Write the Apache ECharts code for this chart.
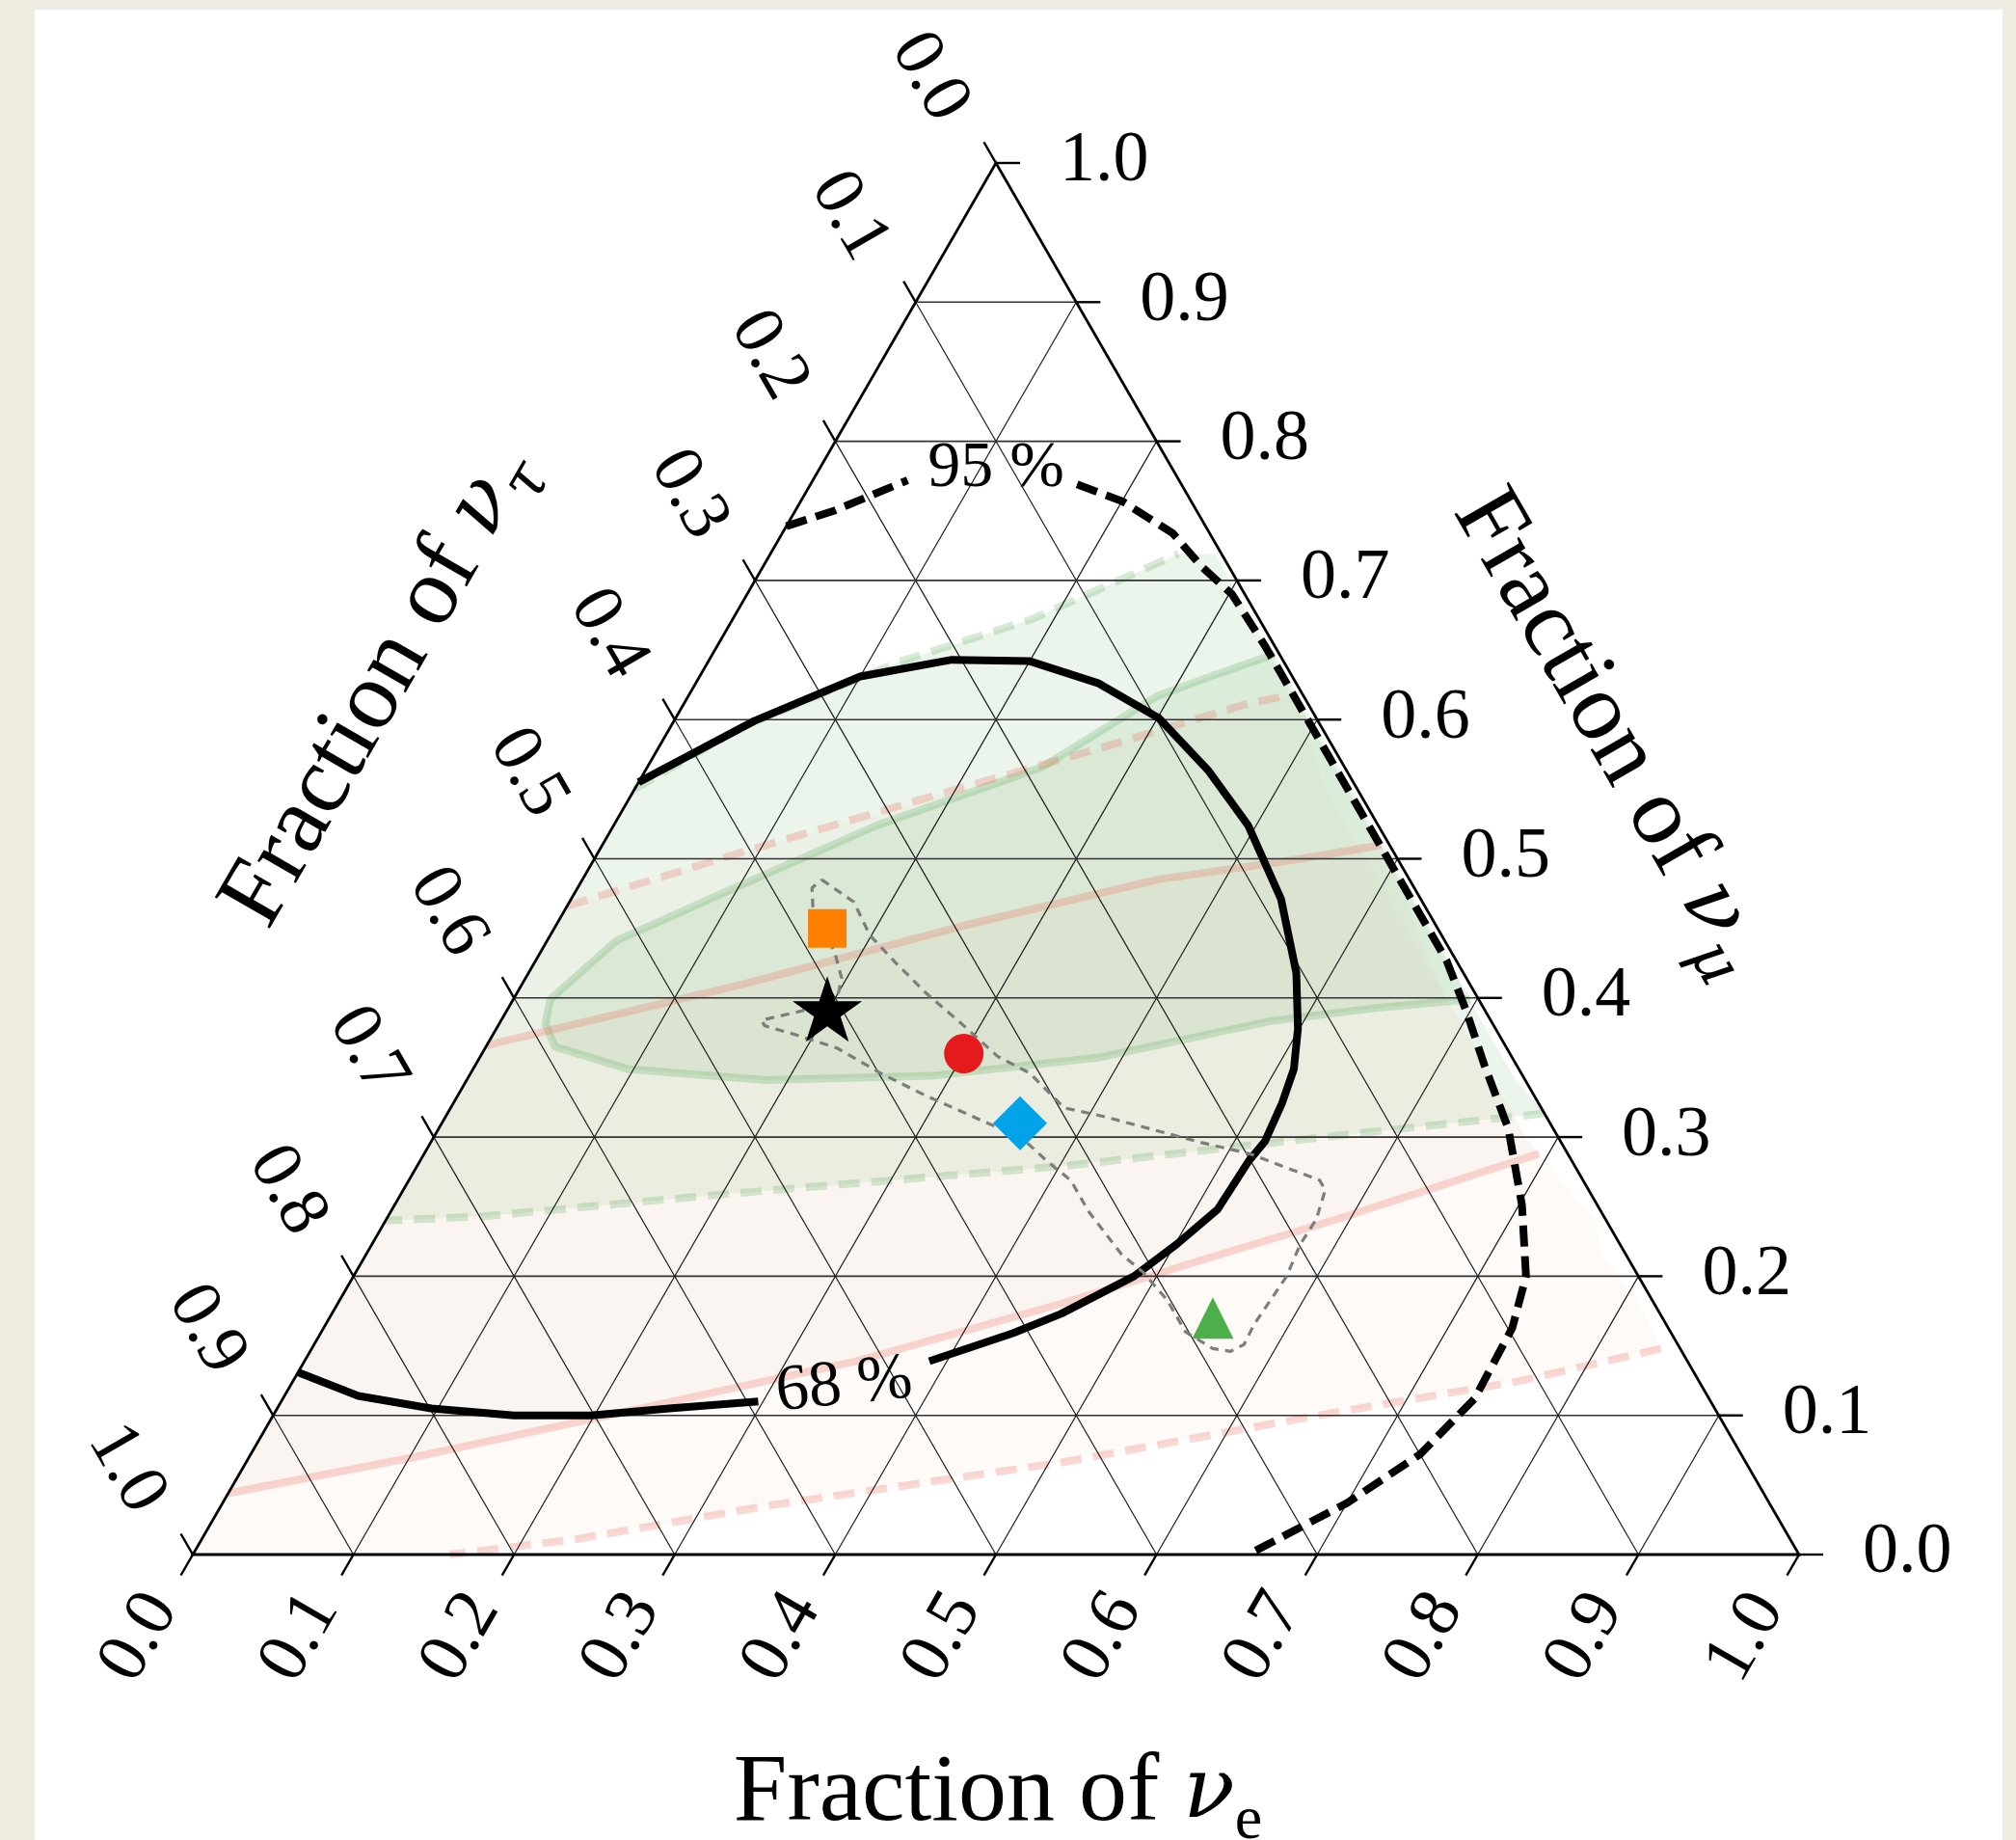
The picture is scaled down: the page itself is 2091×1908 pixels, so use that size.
<!DOCTYPE html>
<html><head><meta charset="utf-8">
<script src="https://cdn.jsdelivr.net/npm/echarts@6/dist/echarts.min.js"></script>
<style>
html,body{margin:0;padding:0;background:#EEEBE1;width:2091px;height:1908px;overflow:hidden;}
#panel{position:absolute;left:36px;top:10px;width:2041px;height:1898px;background:#ffffff;}
#chart{position:absolute;left:0;top:0;width:2091px;height:1908px;}
</style></head><body>
<div id="panel"></div>
<div id="chart"></div>
<script>
// ---- axis ticks ----
const TICKS = [0, 0.1, 0.2, 0.3, 0.4, 0.5, 0.6, 0.7, 0.8, 0.9, 1.0];
const TICK_LABELS = ['0.0','0.1','0.2','0.3','0.4','0.5','0.6','0.7','0.8','0.9','1.0'];
const GRID_VALUES = [0.1, 0.2, 0.3, 0.4, 0.5, 0.6, 0.7, 0.8, 0.9];

// all points: [fraction of nu_e, fraction of nu_mu]  (nu_tau = 1 - e - mu)
// green credible regions
const green95Upper = [[0.000,0.550],[0.045,0.595],[0.118,0.641],[0.186,0.672],[0.254,0.719],[0.277,0.719]];
const green95Right = [[0.360,0.634],[0.450,0.544],[0.550,0.444],[0.650,0.344]];
const green95Lower = [[0.683,0.317],[0.569,0.302],[0.401,0.279],[0.202,0.259],[0.059,0.243],[0.000,0.240]];
const green68Loop = [[0.350,0.647],[0.320,0.632],[0.292,0.617],[0.246,0.566],[0.164,0.524],[0.102,0.482],
  [0.043,0.441],[0.023,0.399],[0.029,0.381],[0.043,0.365],[0.096,0.349],[0.186,0.341],[0.288,0.344],
  [0.385,0.357],[0.478,0.383],[0.542,0.393],[0.596,0.399]];
// red credible regions
const red95Upper = [[0.000,0.466],[0.090,0.505],[0.188,0.545],[0.274,0.579],[0.352,0.612],[0.377,0.618]];
const red95Right = [[0.430,0.550],[0.530,0.450],[0.630,0.350],[0.680,0.300],[0.700,0.283],[0.724,0.263],
  [0.753,0.241],[0.767,0.218],[0.808,0.183]];
const red95Lower = [[0.840,0.148],[0.765,0.125],[0.651,0.100],[0.507,0.066],[0.340,0.035],[0.233,0.011],[0.160,0.000]];
const red68Upper = [[0.000,0.366],[0.138,0.410],[0.254,0.452],[0.358,0.485],[0.440,0.500],[0.485,0.510]];
const red68Right = [[0.580,0.400],[0.680,0.300]];
const red68Lower = [[0.694,0.288],[0.592,0.241],[0.521,0.211],[0.450,0.180],[0.344,0.139],[0.223,0.104],
  [0.103,0.070],[0.000,0.044]];
// black contours
const black95A = [[0.000,0.739],[0.024,0.750],[0.059,0.772]];
const black95B = [[0.166,0.769],[0.200,0.757],[0.243,0.734],[0.273,0.710],[0.302,0.690],[0.341,0.653],
  [0.391,0.603],[0.459,0.535],[0.512,0.482],[0.567,0.427],[0.598,0.390],[0.628,0.352],[0.666,0.306],
  [0.702,0.251],[0.730,0.200],[0.740,0.163],[0.742,0.112],[0.728,0.072],[0.700,0.037],[0.657,0.000]];
const black68A = [[0.000,0.555],[0.050,0.599],[0.100,0.631],[0.151,0.643],[0.200,0.642],[0.251,0.626],
  [0.301,0.601],[0.351,0.563],[0.395,0.524],[0.442,0.471],[0.478,0.418],[0.499,0.378],[0.511,0.349],
  [0.516,0.324],[0.519,0.297],[0.516,0.283],[0.514,0.248],[0.501,0.223],[0.486,0.200],[0.454,0.173],
  [0.431,0.159],[0.389,0.139]];
const black68B = [[0.297,0.110],[0.244,0.105],[0.198,0.100],[0.150,0.100],[0.096,0.105],[0.046,0.114],[0.000,0.131]];
// gray dotted contour
const grayContour = [[0.149,0.485],[0.177,0.469],[0.199,0.445],[0.224,0.426],[0.254,0.404],[0.290,0.380],
  [0.322,0.358],[0.348,0.346],[0.382,0.321],[0.409,0.315],[0.480,0.296],[0.514,0.288],[0.567,0.269],
  [0.574,0.262],[0.579,0.241],[0.578,0.223],[0.581,0.200],[0.578,0.165],[0.579,0.151],[0.573,0.146],
  [0.561,0.148],[0.538,0.160],[0.515,0.183],[0.490,0.203],[0.470,0.216],[0.435,0.246],[0.412,0.269],
  [0.390,0.283],[0.367,0.299],[0.335,0.312],[0.291,0.330],[0.255,0.346],[0.219,0.364],[0.187,0.374],
  [0.166,0.380],[0.162,0.384],[0.172,0.387],[0.188,0.392],[0.200,0.404],[0.197,0.414],[0.186,0.429],
  [0.170,0.448],[0.153,0.466],[0.146,0.479],[0.149,0.485]];
// markers
const starPoint = [0.20, 0.39];
const squarePoint = [0.17, 0.45];
const circlePoint = [0.30, 0.36];
const diamondPoint = [0.36, 0.31];
const trianglePoint = [0.55, 0.17];
// contour labels
const contourLabels = [
  {text: '95 %', pos: [0.110, 0.780], rot: 0},
  {text: '68 %', pos: [0.345, 0.121], rot: 6}
];

const FONT = '"Liberation Serif", "DejaVu Serif", serif';
const T = p => [p[0] + p[1] / 2, p[1]];

function shapeSeries(points, kind, style, z) {
  return {
    type: 'custom', coordinateSystem: 'cartesian2d', z: z, silent: true, clip: false,
    data: [[0, 0]],
    renderItem: (params, api) => ({
      type: kind,
      shape: { points: points.map(p => api.coord(T(p))) },
      style: Object.assign({}, style)
    })
  };
}
function lineStyle(color, width, dash) {
  const s = { stroke: color, lineWidth: width, fill: null, lineJoin: 'round', lineCap: 'butt' };
  if (dash) s.lineDash = dash;
  return s;
}

const GREEN_FILL = 'rgba(70,160,70,0.10)';
const RED_FILL = 'rgba(215,128,95,0.045)';
const GREEN_LINE = 'rgba(70,160,70,0.22)';
const RED_LINE = 'rgba(236,105,90,0.26)';

const series = [];
// fills
series.push(shapeSeries([...green95Upper, ...green95Right, ...green95Lower], 'polygon', {fill: GREEN_FILL}, 1));
series.push(shapeSeries([...red95Upper, ...red95Right, ...red95Lower, [0, 0]], 'polygon', {fill: RED_FILL}, 1));
series.push(shapeSeries(green68Loop, 'polygon', {fill: GREEN_FILL}, 1));
series.push(shapeSeries([...red68Upper, ...red68Right, ...red68Lower], 'polygon', {fill: RED_FILL}, 1));
// coloured boundary lines
series.push(shapeSeries(green95Upper.slice(0, 5), 'polyline', lineStyle(GREEN_LINE, 8, [22, 12]), 2));
series.push(shapeSeries(green95Lower, 'polyline', lineStyle(GREEN_LINE, 8, [22, 12]), 2));
series.push(shapeSeries(green68Loop, 'polyline', lineStyle(GREEN_LINE, 8), 2));
series.push(shapeSeries(red95Upper, 'polyline', lineStyle(RED_LINE, 8, [22, 12]), 2));
series.push(shapeSeries(red95Lower, 'polyline', lineStyle(RED_LINE, 8, [22, 12]), 2));
series.push(shapeSeries(red68Upper, 'polyline', lineStyle(RED_LINE, 8), 2));
series.push(shapeSeries(red68Lower, 'polyline', lineStyle(RED_LINE, 8), 2));

// grid lines
series.push({
  type: 'custom', coordinateSystem: 'cartesian2d', z: 3, silent: true, clip: false,
  data: GRID_VALUES.map(t => [t, 0]),
  renderItem: (params, api) => {
    const t = GRID_VALUES[params.dataIndex];
    const c = p => api.coord(T(p));
    const seg = (a, b, w, col) => ({ type: 'line', shape: {x1: a[0], y1: a[1], x2: b[0], y2: b[1]},
      style: {stroke: col, lineWidth: w} });
    return { type: 'group', children: [
      seg(c([0, t]), c([1 - t, t]), 1.6, '#333'),
      seg(c([t, 0]), c([t, 1 - t]), 1.2, '#1a1a1a'),
      seg(c([1 - t, 0]), c([0, 1 - t]), 1.2, '#1a1a1a')
    ]};
  }
});
// triangle frame
series.push(shapeSeries([[0, 0], [1, 0], [0, 1]], 'polygon', {fill: null, stroke: '#000', lineWidth: 2.8, lineJoin: 'miter'}, 4));
// ticks and tick labels
series.push({
  type: 'custom', coordinateSystem: 'cartesian2d', z: 4, silent: true, clip: false,
  data: TICKS.map(t => [t, 0]),
  renderItem: (params, api) => {
    const t = TICKS[params.dataIndex];
    const lab = TICK_LABELS[params.dataIndex];
    const c = p => api.coord(T(p));
    const tk = (a, dx, dy) => ({ type: 'line', shape: {x1: a[0], y1: a[1], x2: a[0] + dx, y2: a[1] + dy},
      style: {stroke: '#000', lineWidth: 2.4} });
    const txt = (x, y, rot, align) => ({ type: 'text', x: x, y: y, rotation: rot,
      style: {text: lab, x: 0, y: 0, fill: '#000', font: '74px ' + FONT, align: align, verticalAlign: 'middle'} });
    const b = c([t, 0]);          // nu_e axis (bottom)
    const r = c([1 - t, t]);      // nu_mu axis (right)
    const l = c([0, 1 - t]);      // nu_tau axis (left)
    return { type: 'group', children: [
      tk(b, -12.5, 21.65), tk(r, 25, 0), tk(l, -12.5, -21.65),
      txt(b[0] - 55, b[1] + 86, Math.PI / 3, 'center'),
      txt(r[0] + 66, r[1] - 1, 0, 'left'),
      txt(l[0] - 69, l[1] - 89, -Math.PI / 3, 'center')
    ]};
  }
});
// black contours
series.push(shapeSeries(black95A, 'polyline', lineStyle('#000', 8, [22, 10]), 5));
series.push(shapeSeries(black95B, 'polyline', lineStyle('#000', 8, [22, 10]), 5));
series.push(shapeSeries(black68A, 'polyline', lineStyle('#000', 8), 5));
series.push(shapeSeries(black68B, 'polyline', lineStyle('#000', 8), 5));
// gray dotted contour
series.push(shapeSeries(grayContour, 'polyline', lineStyle('#7d7d7d', 3.2, [9, 7]), 5));
// contour labels
series.push({
  type: 'custom', coordinateSystem: 'cartesian2d', z: 7, silent: true, clip: false,
  data: contourLabels.map(d => T(d.pos)),
  renderItem: (params, api) => {
    const d = contourLabels[params.dataIndex];
    const p = api.coord([api.value(0), api.value(1)]);
    return { type: 'text', x: p[0], y: p[1], rotation: d.rot * Math.PI / 180,
      style: {text: d.text, x: 0, y: 0, fill: '#000', font: '68px ' + FONT, align: 'center', verticalAlign: 'middle'} };
  }
});
// markers
const STAR = 'path://M50,0 L61.23,34.55 L97.55,34.55 L68.16,55.9 L79.39,90.45 L50,69.1 L20.61,90.45 L31.84,55.9 L2.45,34.55 L38.77,34.55 Z';
const mk = (pt, symbol, size, color, offset) => ({
  type: 'scatter', z: 6, silent: true, symbol: symbol, symbolSize: size, symbolOffset: offset || [0, 0],
  itemStyle: {color: color, opacity: 1}, data: [T(pt)]
});
series.push(mk(squarePoint, 'rect', 40, '#ff7f00'));
series.push(mk(circlePoint, 'circle', 41, '#e41a1c'));
series.push(mk(diamondPoint, 'diamond', 56, '#00a2e8'));
series.push(mk(trianglePoint, 'triangle', 43, '#4daf4a'));
series.push(mk(starPoint, STAR, [72, 68], '#000', [0, -3]));

const NU_FONT = '"DejaVu Serif", "Liberation Serif", serif';
const titleRich = (subItalic) => ({
  a: {fontSize: 100, fontFamily: FONT, fill: '#000', lineHeight: 120},
  n: {fontSize: 88, fontFamily: NU_FONT, fontStyle: 'italic', fill: '#000', lineHeight: 120},
  s: {fontSize: 64, fontFamily: subItalic ? NU_FONT : FONT, fontStyle: subItalic ? 'italic' : 'normal',
      fill: '#000', lineHeight: 60, verticalAlign: 'bottom'}
});
const title = (x, y, rot, sub, it) => ({
  type: 'text', x: x, y: y, rotation: rot, silent: true, z: 10,
  style: {text: '{a|Fraction of }{n|ν}{s|' + sub + '}', rich: titleRich(it), align: 'center', verticalAlign: 'middle'}
});

const chart = echarts.init(document.getElementById('chart'), null, {renderer: 'canvas'});
chart.setOption({
  animation: false,
  backgroundColor: 'transparent',
  grid: {left: 200, right: 225, top: 169, bottom: 296},
  xAxis: {type: 'value', min: 0, max: 1, show: false},
  yAxis: {type: 'value', min: 0, max: 1, show: false},
  series: series,
  graphic: [
    title(1035, 1861, 0, 'e', false),
    title(394, 712, Math.PI / 3, 'τ', true),
    title(1670, 760, -Math.PI / 3, 'μ', true)
  ]
});
</script></body></html>
